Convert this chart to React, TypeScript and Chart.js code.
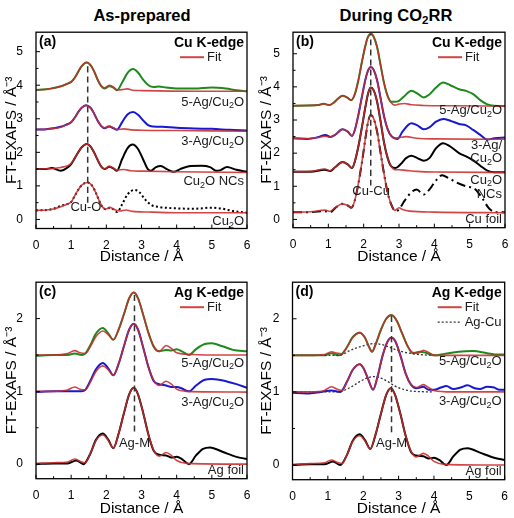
import React, { useEffect, useRef } from "react";
import { Chart, registerables } from "chart.js";
Chart.register(...registerables);

const FONT = '"Liberation Sans", Arial, Helvetica, sans-serif';
type P = [number, number];
type Seg = [string, "n" | "sub" | "sup"];

// ---------- shared axis ticks ----------
const xTicks = [0, 1, 2, 3, 4, 5, 6];
const yTicksCu = [0, 1, 2, 3, 4, 5];
const yTicksAg = [0, 1, 2];

// ---------- (a) As-prepared, Cu K-edge ----------
const a5AgData: P[] = [[0,3.86],[0.3,3.88],[0.5,3.92],[0.7,3.97],[0.85,4.03],[1.0,4.1],[1.1,4.22],[1.2,4.4],[1.3,4.57],[1.44,4.68],[1.55,4.6],[1.65,4.42],[1.75,4.17],[1.85,3.98],[1.95,3.9],[2.08,3.97],[2.2,3.93],[2.3,3.85],[2.45,4.08],[2.6,4.36],[2.76,4.48],[2.9,4.38],[3.05,4.16],[3.2,4.0],[3.35,3.95],[3.5,3.96],[3.7,3.93],[4.0,3.9],[4.5,3.9],[5.0,3.93],[5.4,3.9],[5.7,3.85],[6.0,3.82]];
const a5AgFit: P[] = [[0,3.86],[0.3,3.88],[0.5,3.91],[0.7,3.96],[0.85,4.02],[1.0,4.1],[1.1,4.22],[1.2,4.4],[1.3,4.57],[1.44,4.68],[1.55,4.6],[1.65,4.42],[1.75,4.17],[1.85,3.98],[1.95,3.92],[2.08,4.0],[2.2,3.95],[2.3,3.86],[2.45,3.87],[2.6,3.89],[2.75,3.85],[3.0,3.84],[3.5,3.83],[4.5,3.82],[6.0,3.82]];
const a3AgData: P[] = [[0,2.68],[0.3,2.69],[0.5,2.72],[0.7,2.76],[0.85,2.82],[1.0,2.9],[1.1,3.03],[1.2,3.2],[1.3,3.33],[1.42,3.4],[1.55,3.33],[1.65,3.16],[1.75,2.95],[1.85,2.79],[1.95,2.72],[2.08,2.77],[2.2,2.72],[2.3,2.67],[2.45,2.9],[2.6,3.13],[2.76,3.2],[2.9,3.12],[3.05,2.95],[3.2,2.8],[3.35,2.77],[3.6,2.76],[4.0,2.73],[4.5,2.71],[5.0,2.7],[5.5,2.67],[6.0,2.65]];
const a3AgFit: P[] = [[0,2.68],[0.3,2.69],[0.5,2.71],[0.7,2.75],[0.85,2.81],[1.0,2.9],[1.1,3.03],[1.2,3.2],[1.3,3.33],[1.42,3.4],[1.55,3.33],[1.65,3.16],[1.75,2.95],[1.85,2.79],[1.95,2.73],[2.08,2.78],[2.2,2.73],[2.3,2.68],[2.5,2.7],[2.7,2.67],[3.0,2.66],[4.0,2.65],[6.0,2.63]];
const aNCsData: P[] = [[0,1.5],[0.25,1.5],[0.45,1.53],[0.7,1.45],[0.9,1.55],[1.0,1.65],[1.1,1.82],[1.2,2.0],[1.3,2.15],[1.44,2.25],[1.55,2.18],[1.65,2.0],[1.75,1.78],[1.85,1.58],[1.95,1.5],[2.08,1.57],[2.2,1.52],[2.3,1.45],[2.45,1.8],[2.6,2.12],[2.75,2.23],[2.9,2.1],[3.05,1.78],[3.18,1.5],[3.27,1.45],[3.4,1.55],[3.55,1.59],[3.72,1.5],[3.92,1.42],[4.1,1.5],[4.4,1.59],[4.7,1.6],[4.95,1.56],[5.12,1.45],[5.25,1.47],[5.43,1.56],[5.7,1.48],[6.0,1.42]];
const aNCsFit: P[] = [[0,1.5],[0.3,1.51],[0.5,1.52],[0.7,1.55],[0.9,1.6],[1.0,1.67],[1.1,1.82],[1.2,2.0],[1.3,2.15],[1.44,2.25],[1.55,2.18],[1.65,2.0],[1.75,1.78],[1.85,1.58],[1.95,1.51],[2.08,1.58],[2.2,1.53],[2.3,1.47],[2.5,1.49],[2.7,1.45],[3.0,1.44],[4.0,1.42],[6.0,1.4]];
const aCu2OData: P[] = [[0,0.27],[0.3,0.28],[0.5,0.32],[0.7,0.4],[0.85,0.45],[1.0,0.52],[1.1,0.7],[1.2,0.88],[1.3,1.02],[1.47,1.1],[1.6,1.0],[1.7,0.8],[1.8,0.55],[1.9,0.36],[2.0,0.3],[2.1,0.35],[2.2,0.3],[2.3,0.22],[2.45,0.45],[2.6,0.74],[2.8,0.88],[2.95,0.8],[3.1,0.6],[3.3,0.42],[3.5,0.37],[4.0,0.33],[4.5,0.32],[5.0,0.35],[5.3,0.32],[5.6,0.25],[6.0,0.2]];
const aCu2OFit: P[] = [[0,0.27],[0.3,0.28],[0.5,0.31],[0.7,0.38],[0.85,0.44],[1.0,0.52],[1.1,0.7],[1.2,0.88],[1.3,1.02],[1.47,1.1],[1.6,1.0],[1.7,0.8],[1.8,0.55],[1.9,0.36],[2.0,0.31],[2.1,0.36],[2.22,0.3],[2.4,0.25],[2.55,0.28],[2.75,0.24],[3.2,0.22],[4.0,0.2],[6.0,0.2]];
const aCuOLine: P[] = [[1.47,0.5],[1.47,4.68]];

// ---------- (b) During CO2RR, Cu K-edge ----------
const b5AgFit: P[] = [[0,3.43],[0.4,3.44],[0.7,3.45],[0.87,3.49],[1.02,3.45],[1.15,3.52],[1.28,3.65],[1.4,3.73],[1.53,3.68],[1.65,3.6],[1.75,3.78],[1.85,4.2],[1.95,4.75],[2.05,5.25],[2.12,5.5],[2.2,5.6],[2.28,5.52],[2.38,5.2],[2.48,4.65],[2.58,4.1],[2.68,3.72],[2.78,3.52],[2.88,3.45],[3.0,3.48],[3.15,3.5],[3.35,3.46],[3.7,3.44],[4.5,3.43],[6.0,3.42]];
const b5AgData: P[] = [[0,3.43],[0.4,3.44],[0.7,3.45],[0.87,3.49],[1.02,3.45],[1.15,3.52],[1.28,3.65],[1.4,3.73],[1.53,3.68],[1.65,3.6],[1.75,3.78],[1.85,4.2],[1.95,4.75],[2.05,5.25],[2.12,5.5],[2.2,5.6],[2.28,5.52],[2.38,5.2],[2.48,4.65],[2.58,4.1],[2.68,3.72],[2.78,3.55],[2.88,3.55],[3.0,3.58],[3.15,3.72],[3.35,3.88],[3.52,3.8],[3.7,3.68],[3.85,3.76],[4.05,3.98],[4.25,4.13],[4.45,4.05],[4.7,3.93],[4.9,3.88],[5.1,3.78],[5.3,3.6],[5.5,3.47],[5.7,3.43],[6.0,3.42]];
const b3AgFit: P[] = [[0,2.45],[0.4,2.44],[0.7,2.47],[0.9,2.51],[1.05,2.48],[1.2,2.56],[1.4,2.72],[1.55,2.65],[1.67,2.52],[1.75,2.7],[1.85,3.15],[1.95,3.7],[2.05,4.22],[2.12,4.48],[2.2,4.6],[2.28,4.52],[2.38,4.2],[2.48,3.65],[2.58,3.1],[2.68,2.72],[2.78,2.52],[2.88,2.45],[3.0,2.47],[3.2,2.5],[3.5,2.45],[4.0,2.43],[6.0,2.42]];
const b3AgData: P[] = [[0,2.45],[0.4,2.43],[0.7,2.48],[0.92,2.55],[1.05,2.49],[1.2,2.56],[1.4,2.72],[1.55,2.65],[1.67,2.52],[1.75,2.7],[1.85,3.15],[1.95,3.7],[2.05,4.22],[2.12,4.48],[2.2,4.6],[2.28,4.52],[2.38,4.2],[2.48,3.65],[2.58,3.1],[2.68,2.72],[2.78,2.52],[2.88,2.45],[2.96,2.43],[3.1,2.65],[3.35,2.9],[3.52,2.84],[3.7,2.72],[3.86,2.78],[4.05,2.95],[4.25,3.03],[4.45,2.98],[4.7,2.88],[4.9,2.84],[5.1,2.7],[5.3,2.55],[5.5,2.41],[5.7,2.45],[6.0,2.47]];
const bNCsFit: P[] = [[0,1.44],[0.5,1.45],[0.9,1.52],[1.05,1.47],[1.2,1.58],[1.4,1.73],[1.55,1.66],[1.67,1.55],[1.75,1.75],[1.85,2.2],[1.95,2.78],[2.05,3.4],[2.12,3.78],[2.2,3.98],[2.28,3.9],[2.38,3.55],[2.48,2.95],[2.58,2.3],[2.68,1.85],[2.78,1.6],[2.88,1.5],[3.0,1.5],[3.2,1.48],[3.5,1.45],[4.0,1.43],[6.0,1.42]];
const bNCsData: P[] = [[0,1.44],[0.5,1.44],[0.9,1.5],[1.05,1.46],[1.2,1.58],[1.4,1.73],[1.55,1.66],[1.67,1.55],[1.75,1.75],[1.85,2.2],[1.95,2.78],[2.05,3.4],[2.12,3.78],[2.2,3.98],[2.28,3.9],[2.38,3.55],[2.48,2.95],[2.58,2.3],[2.68,1.85],[2.78,1.6],[2.9,1.55],[3.05,1.67],[3.2,1.85],[3.35,1.92],[3.52,1.85],[3.7,1.77],[3.86,1.85],[4.05,2.15],[4.25,2.3],[4.45,2.2],[4.7,2.0],[4.9,1.9],[5.1,1.78],[5.3,1.62],[5.5,1.47],[5.7,1.42],[6.0,1.42]];
const bFoilFit: P[] = [[0,0.22],[0.5,0.23],[0.9,0.28],[1.05,0.24],[1.2,0.36],[1.4,0.47],[1.55,0.42],[1.65,0.35],[1.75,0.58],[1.85,1.08],[1.95,1.72],[2.05,2.45],[2.12,2.92],[2.2,3.15],[2.28,3.05],[2.38,2.65],[2.48,2.0],[2.58,1.35],[2.68,0.8],[2.78,0.45],[2.88,0.27],[3.0,0.35],[3.1,0.3],[3.3,0.25],[4.0,0.22],[6.0,0.2]];
const bFoilData: P[] = [[0,0.22],[0.5,0.22],[0.9,0.25],[1.05,0.22],[1.2,0.35],[1.4,0.47],[1.55,0.42],[1.65,0.35],[1.75,0.58],[1.85,1.08],[1.95,1.72],[2.05,2.45],[2.12,2.92],[2.2,3.15],[2.28,3.05],[2.38,2.65],[2.48,2.0],[2.58,1.35],[2.68,0.8],[2.78,0.45],[2.9,0.25],[3.0,0.3],[3.15,0.55],[3.35,0.82],[3.5,0.9],[3.7,0.75],[3.86,0.9],[4.05,1.18],[4.22,1.33],[4.4,1.25],[4.65,1.1],[4.9,1.0],[5.15,0.92],[5.35,0.65],[5.55,0.33],[5.75,0.22],[6.0,0.22]];
const bCuCuLine: P[] = [[2.2,1.02],[2.2,5.6]];

// ---------- (c) As-prepared, Ag K-edge ----------
const c5AgFit: P[] = [[0,1.5],[0.5,1.5],[0.9,1.52],[1.1,1.56],[1.25,1.53],[1.4,1.52],[1.55,1.62],[1.7,1.75],[1.9,1.83],[2.05,1.78],[2.2,1.71],[2.35,1.85],[2.5,2.06],[2.65,2.28],[2.78,2.36],[2.9,2.28],[3.05,2.05],[3.2,1.8],[3.35,1.62],[3.5,1.55],[3.7,1.63],[3.85,1.59],[4.0,1.53],[4.3,1.51],[5.0,1.5],[6.0,1.5]];
const c5AgData: P[] = [[0,1.49],[0.5,1.5],[0.9,1.5],[1.1,1.52],[1.3,1.5],[1.4,1.52],[1.55,1.64],[1.7,1.79],[1.9,1.87],[2.05,1.8],[2.2,1.71],[2.35,1.85],[2.5,2.06],[2.65,2.28],[2.78,2.36],[2.9,2.28],[3.05,2.05],[3.2,1.8],[3.35,1.61],[3.5,1.55],[3.7,1.57],[3.85,1.56],[4.0,1.58],[4.15,1.55],[4.35,1.5],[4.55,1.58],[4.8,1.65],[5.0,1.66],[5.3,1.62],[5.6,1.57],[6.0,1.55]];
const c3AgFit: P[] = [[0,1.0],[0.5,1.0],[0.9,1.02],[1.1,1.06],[1.25,1.03],[1.4,1.02],[1.55,1.13],[1.7,1.27],[1.9,1.35],[2.05,1.3],[2.2,1.22],[2.35,1.38],[2.5,1.62],[2.65,1.85],[2.78,1.93],[2.9,1.85],[3.05,1.6],[3.2,1.33],[3.35,1.15],[3.5,1.08],[3.7,1.14],[3.85,1.1],[4.0,1.03],[4.3,1.0],[6.0,0.99]];
const c3AgData: P[] = [[0,0.99],[0.5,1.0],[0.9,1.0],[1.1,1.0],[1.3,1.0],[1.4,1.02],[1.55,1.15],[1.7,1.3],[1.9,1.39],[2.05,1.32],[2.2,1.22],[2.35,1.38],[2.5,1.62],[2.65,1.85],[2.78,1.93],[2.9,1.85],[3.05,1.6],[3.2,1.33],[3.35,1.14],[3.5,1.1],[3.7,1.08],[3.85,1.06],[4.0,1.06],[4.15,1.04],[4.35,1.0],[4.55,1.08],[4.8,1.16],[5.0,1.17],[5.4,1.14],[5.7,1.1],[6.0,1.05]];
const agFoilFit: P[] = [[0,0.01],[0.5,0.02],[0.9,0.03],[1.1,0.07],[1.25,0.04],[1.4,0.02],[1.55,0.15],[1.7,0.32],[1.9,0.4],[2.05,0.33],[2.2,0.22],[2.35,0.42],[2.5,0.7],[2.65,0.96],[2.78,1.05],[2.9,0.96],[3.05,0.7],[3.2,0.4],[3.35,0.19],[3.5,0.11],[3.7,0.16],[3.85,0.12],[4.0,0.05],[4.3,0.01],[6.0,0.0]];
const agFoilData: P[] = [[0,0.0],[0.5,0.01],[0.9,0.01],[1.15,0.05],[1.35,0.0],[1.55,0.15],[1.7,0.33],[1.9,0.42],[2.05,0.34],[2.2,0.22],[2.35,0.42],[2.5,0.7],[2.65,0.96],[2.78,1.05],[2.9,0.96],[3.05,0.7],[3.2,0.4],[3.35,0.18],[3.5,0.13],[3.7,0.12],[3.85,0.09],[4.0,0.1],[4.15,0.07],[4.35,0.0],[4.55,0.12],[4.75,0.21],[4.95,0.23],[5.3,0.17],[5.7,0.1],[6.0,0.07]];
const cAgMLine: P[] = [[2.8,0.45],[2.8,2.36]];

// ---------- (d) During CO2RR, Ag K-edge ----------
const d5AgFit: P[] = [[0,1.5],[0.5,1.5],[0.9,1.51],[1.1,1.55],[1.25,1.53],[1.4,1.52],[1.55,1.62],[1.7,1.74],[1.9,1.81],[2.05,1.74],[2.15,1.63],[2.25,1.55],[2.35,1.65],[2.5,1.85],[2.65,2.0],[2.8,2.05],[2.95,1.97],[3.1,1.8],[3.25,1.63],[3.4,1.54],[3.55,1.53],[3.7,1.57],[3.85,1.54],[4.0,1.5],[5.0,1.5],[6.0,1.5]];
const d5AgData: P[] = [[0,1.5],[0.5,1.5],[0.9,1.5],[1.1,1.53],[1.3,1.5],[1.4,1.52],[1.55,1.62],[1.7,1.75],[1.9,1.81],[2.05,1.74],[2.15,1.63],[2.25,1.55],[2.35,1.65],[2.5,1.85],[2.65,2.0],[2.8,2.05],[2.95,1.97],[3.1,1.8],[3.25,1.63],[3.4,1.53],[3.6,1.55],[3.75,1.54],[4.0,1.5],[4.3,1.52],[4.7,1.55],[5.1,1.56],[5.5,1.53],[5.8,1.51],[6.0,1.51]];
const d5AgCu: P[] = [[0,1.5],[1.3,1.5],[1.45,1.52],[1.6,1.56],[1.8,1.6],[2.0,1.63],[2.3,1.66],[2.5,1.65],[2.7,1.62],[2.9,1.58],[3.1,1.55],[3.3,1.53],[3.6,1.51],[4.0,1.5]];
const d3AgFit: P[] = [[0,1.0],[0.5,1.0],[0.9,1.02],[1.1,1.07],[1.25,1.04],[1.4,1.02],[1.55,1.15],[1.7,1.3],[1.9,1.38],[2.0,1.33],[2.12,1.2],[2.28,1.03],[2.4,1.2],[2.55,1.5],[2.7,1.7],[2.8,1.74],[2.9,1.7],[3.05,1.5],[3.2,1.25],[3.35,1.1],[3.5,1.06],[3.7,1.1],[3.85,1.06],[4.0,1.02],[4.5,1.0],[6.0,1.0]];
const d3AgData: P[] = [[0,0.99],[0.4,0.98],[0.8,1.0],[1.1,1.02],[1.35,1.0],[1.55,1.15],[1.7,1.3],[1.9,1.38],[2.0,1.33],[2.12,1.2],[2.28,1.03],[2.4,1.2],[2.55,1.5],[2.7,1.7],[2.8,1.74],[2.9,1.7],[3.05,1.5],[3.2,1.25],[3.35,1.1],[3.5,1.05],[3.7,1.07],[3.85,1.03],[4.0,1.03],[4.2,1.06],[4.35,1.08],[4.55,1.04],[4.75,1.06],[4.95,1.09],[5.15,1.05],[5.3,1.04],[5.5,1.07],[5.7,1.06],[5.85,1.03],[6.0,1.03]];
const d3AgCu: P[] = [[0,1.0],[1.3,1.0],[1.5,1.03],[1.7,1.08],[1.9,1.14],[2.1,1.19],[2.3,1.21],[2.5,1.19],[2.7,1.14],[2.9,1.08],[3.1,1.04],[3.4,1.01],[4.0,1.0]];
const dAgMLine: P[] = [[2.8,0.45],[2.8,2.05]];

// ---------- styles ----------
const GREEN = "#1c8a1c";
const BLUE = "#1818d2";
const BLACK = "#000000";
const RED = "rgba(202,44,44,0.88)";
const GUIDE = "#333333";

const cu2o: Seg[] = [["Cu", "n"], ["2", "sub"], ["O", "n"]];

function line(pts: P[], color: string, width: number, order: number, dash: number[] = []) {
  return {
    data: pts.map(([x, y]) => ({ x, y })),
    borderColor: color,
    borderWidth: width,
    borderDash: dash,
    pointRadius: 0,
    cubicInterpolationMode: "monotone",
    fill: false,
    order,
  };
}
const dataLine = (pts: P[], color: string, dash: number[] = []) => line(pts, color, 2, 2, dash);
const fitLine = (pts: P[]) => line(pts, RED, 1.6, 1);
const guideLine = (pts: P[]) => line(pts, GUIDE, 1.5, 0, [6, 4]);

type Label = { x: number | "right"; y: number; segs: Seg[]; align: CanvasTextAlign };
type Spec = {
  cx: number; cy: number; cw: number; ch: number;
  yW: number; xH: number; padTop: number; padRight: number; yTitlePad: number;
  yMin: number; yMax: number; yTicks: number[];
  datasets: any[];
  letter: string; edge: string;
  legend: { text: string; dash: number[]; color: string; width: number }[];
  labels: Label[];
};

function drawRich(ctx: CanvasRenderingContext2D, segs: Seg[], x: number, y: number, align: CanvasTextAlign, size: number, bold: boolean, color: string) {
  const f = (k: string) => `${bold ? "bold " : ""}${k === "n" ? size : Math.round(size * 0.7)}px ${FONT}`;
  let w = 0;
  for (const [t, k] of segs) { ctx.font = f(k); w += ctx.measureText(t).width; }
  let cx = align === "right" ? x - w : align === "center" ? x - w / 2 : x;
  ctx.textAlign = "left";
  ctx.textBaseline = "middle";
  ctx.fillStyle = color;
  for (const [t, k] of segs) {
    ctx.font = f(k);
    const dy = k === "sub" ? size * 0.3 : k === "sup" ? -size * 0.35 : 0;
    ctx.fillText(t, cx, y + dy);
    cx += ctx.measureText(t).width;
  }
}

function halves(m: number[]) {
  const out: number[] = [];
  for (let i = 0; i < m.length - 1; i++) out.push((m[i] + m[i + 1]) / 2);
  return out;
}

function decor(spec: Spec) {
  return {
    id: "decor",
    afterDatasetsDraw(chart: any) {
      const { ctx, chartArea } = chart;
      const { left, right, top, bottom } = chartArea;
      const xs = chart.scales.x, ys = chart.scales.y;
      ctx.save();
      ctx.setLineDash([]);
      ctx.strokeStyle = "#000";
      ctx.lineWidth = 1.3;
      ctx.strokeRect(left, top, right - left, bottom - top);
      ctx.lineWidth = 1;
      ctx.beginPath();
      for (const v of xTicks) { const p = xs.getPixelForValue(v); ctx.moveTo(p, bottom); ctx.lineTo(p, bottom - 4); }
      for (const v of halves(xTicks)) { const p = xs.getPixelForValue(v); ctx.moveTo(p, bottom); ctx.lineTo(p, bottom - 2.5); }
      for (const v of spec.yTicks) { const p = ys.getPixelForValue(v); ctx.moveTo(left, p); ctx.lineTo(left + 4, p); }
      for (const v of halves(spec.yTicks)) { const p = ys.getPixelForValue(v); ctx.moveTo(left, p); ctx.lineTo(left + 2.5, p); }
      ctx.stroke();

      drawRich(ctx, [[spec.letter, "n"]], left + 3, top + 9.5, "left", 14, true, "#000");
      drawRich(ctx, [[spec.edge, "n"]], right - 3, top + 10.5, "right", 14, true, "#000");
      spec.legend.forEach((l, i) => {
        const y = top + 25 + i * 15;
        ctx.strokeStyle = l.color;
        ctx.lineWidth = l.width;
        ctx.setLineDash(l.dash);
        ctx.beginPath();
        ctx.moveTo(right - 67, y);
        ctx.lineTo(right - 43, y);
        ctx.stroke();
        ctx.setLineDash([]);
        drawRich(ctx, [[l.text, "n"]], right - 40, y, "left", 13, false, "#1a1a1a");
      });
      for (const lb of spec.labels) {
        const px = lb.x === "right" ? right - 3 : xs.getPixelForValue(lb.x);
        drawRich(ctx, lb.segs, px, ys.getPixelForValue(lb.y), lb.align, 13, false, "#1a1a1a");
      }
      ctx.restore();
    },
  };
}

function config(spec: Spec): any {
  return {
    type: "line",
    data: { datasets: spec.datasets },
    options: {
      animation: false,
      responsive: false,
      maintainAspectRatio: false,
      events: [],
      layout: { padding: { left: 0, top: spec.padTop, right: spec.padRight, bottom: 0 } },
      plugins: { legend: { display: false }, tooltip: { enabled: false }, title: { display: false } },
      scales: {
        x: {
          type: "linear", min: 0, max: 6,
          grid: { display: false }, border: { display: false },
          ticks: { font: { family: FONT, size: 12 }, color: "#000", padding: 2, maxRotation: 0, autoSkip: false },
          afterBuildTicks: (s: any) => { s.ticks = xTicks.map((v) => ({ value: v })); },
          afterFit: (s: any) => { s.height = spec.xH; },
          title: { display: true, text: "Distance / Å", font: { family: FONT, size: 15.5 }, color: "#000", padding: { top: 0, bottom: 0 } },
        },
        y: {
          type: "linear", min: spec.yMin, max: spec.yMax,
          grid: { display: false }, border: { display: false },
          ticks: { font: { family: FONT, size: 12 }, color: "#000", padding: 5, autoSkip: false },
          afterBuildTicks: (s: any) => { s.ticks = spec.yTicks.map((v) => ({ value: v })); },
          afterFit: (s: any) => { s.width = spec.yW; },
          title: { display: true, text: "FT-EXAFS / Å⁻³", font: { family: FONT, size: 15.5 }, color: "#000", padding: { top: spec.yTitlePad, bottom: 0 } },
        },
      },
    },
    plugins: [decor(spec)],
  };
}

function Panel({ spec }: { spec: Spec }) {
  const ref = useRef<HTMLCanvasElement>(null);
  useEffect(() => {
    const chart = new Chart(ref.current as HTMLCanvasElement, config(spec));
    return () => chart.destroy();
  }, [spec]);
  return (
    <canvas
      ref={ref}
      width={spec.cw}
      height={spec.ch}
      style={{ position: "absolute", left: spec.cx, top: spec.cy, width: spec.cw, height: spec.ch }}
    />
  );
}

const fitLegend = { text: "Fit", dash: [] as number[], color: RED, width: 2 };

const specA: Spec = {
  cx: 0, cy: 20, cw: 254, ch: 246, yW: 36, xH: 37.5, padTop: 9, padRight: 7, yTitlePad: 2.5,
  yMin: -0.27, yMax: 5.58, yTicks: yTicksCu,
  datasets: [
    guideLine(aCuOLine),
    fitLine(a5AgFit), fitLine(a3AgFit), fitLine(aNCsFit), fitLine(aCu2OFit),
    dataLine(a5AgData, GREEN), dataLine(a3AgData, BLUE), dataLine(aNCsData, BLACK), dataLine(aCu2OData, BLACK, [2, 2.5]),
  ],
  letter: "(a)", edge: "Cu K-edge", legend: [fitLegend],
  labels: [
    { x: "right", y: 3.5, segs: [["5-Ag/", "n"], ...cu2o], align: "right" },
    { x: "right", y: 2.33, segs: [["3-Ag/", "n"], ...cu2o], align: "right" },
    { x: "right", y: 1.13, segs: [...cu2o, [" NCs", "n"]], align: "right" },
    { x: "right", y: -0.05, segs: cu2o, align: "right" },
    { x: 1.42, y: 0.36, segs: [["Cu-O", "n"]], align: "center" },
  ],
};

const specB: Spec = {
  cx: 254, cy: 20, cw: 260, ch: 246, yW: 39, xH: 38.3, padTop: 10.6, padRight: 9, yTitlePad: 3.5,
  yMin: -0.25, yMax: 5.65, yTicks: yTicksCu,
  datasets: [
    guideLine(bCuCuLine),
    fitLine(b5AgFit), fitLine(b3AgFit), fitLine(bNCsFit), fitLine(bFoilFit),
    dataLine(b5AgData, GREEN), dataLine(b3AgData, BLUE), dataLine(bNCsData, BLACK), dataLine(bFoilData, BLACK, [9, 4, 2, 4]),
  ],
  letter: "(b)", edge: "Cu K-edge", legend: [fitLegend],
  labels: [
    { x: "right", y: 3.28, segs: [["5-Ag/", "n"], ...cu2o], align: "right" },
    { x: "right", y: 2.24, segs: [["3-Ag/", "n"]], align: "right" },
    { x: "right", y: 1.84, segs: cu2o, align: "right" },
    { x: "right", y: 1.19, segs: cu2o, align: "right" },
    { x: "right", y: 0.74, segs: [["NCs", "n"]], align: "right" },
    { x: "right", y: -0.01, segs: [["Cu foil", "n"]], align: "right" },
    { x: 2.21, y: 0.84, segs: [["Cu-Cu", "n"]], align: "center" },
  ],
};

const specC: Spec = {
  cx: 0, cy: 270, cw: 254, ch: 248, yW: 36, xH: 39.3, padTop: 9.7, padRight: 7, yTitlePad: 2.5,
  yMin: -0.2, yMax: 2.5, yTicks: yTicksAg,
  datasets: [
    guideLine(cAgMLine),
    fitLine(c5AgFit), fitLine(c3AgFit), fitLine(agFoilFit),
    dataLine(c5AgData, GREEN), dataLine(c3AgData, BLUE), dataLine(agFoilData, BLACK),
  ],
  letter: "(c)", edge: "Ag K-edge", legend: [fitLegend],
  labels: [
    { x: "right", y: 1.39, segs: [["5-Ag/", "n"], ...cu2o], align: "right" },
    { x: "right", y: 0.85, segs: [["3-Ag/", "n"], ...cu2o], align: "right" },
    { x: "right", y: -0.09, segs: [["Ag foil", "n"]], align: "right" },
    { x: 2.8, y: 0.29, segs: [["Ag-M", "n"]], align: "center" },
  ],
};

const specD: Spec = {
  cx: 254, cy: 270, cw: 260, ch: 248, yW: 38.5, xH: 38.3, padTop: 10.7, padRight: 9.3, yTitlePad: 3.5,
  yMin: -0.2, yMax: 2.5, yTicks: yTicksAg,
  datasets: [
    guideLine(dAgMLine),
    fitLine(d5AgFit), fitLine(d3AgFit), fitLine(agFoilFit),
    line(d5AgCu, GUIDE, 1.3, 1, [2, 2]), line(d3AgCu, GUIDE, 1.3, 1, [2, 2]),
    dataLine(d5AgData, GREEN), dataLine(d3AgData, BLUE), dataLine(agFoilData, BLACK),
  ],
  letter: "(d)", edge: "Ag K-edge",
  legend: [fitLegend, { text: "Ag-Cu", dash: [2, 2], color: GUIDE, width: 1.3 }],
  labels: [
    { x: "right", y: 1.42, segs: [["5-Ag/", "n"], ...cu2o], align: "right" },
    { x: "right", y: 0.87, segs: [["3-Ag/", "n"], ...cu2o], align: "right" },
    { x: "right", y: -0.09, segs: [["Ag foil", "n"]], align: "right" },
    { x: 2.8, y: 0.29, segs: [["Ag-M", "n"]], align: "center" },
  ],
};

const titleStyle: React.CSSProperties = {
  position: "absolute", top: 5, width: 200, textAlign: "center",
  fontFamily: FONT, fontWeight: "bold", fontSize: 16.5, lineHeight: "20px", color: "#000",
};

export default function App() {
  return (
    <div style={{ position: "fixed", left: 0, top: 0, width: 514, height: 518, background: "#fff", overflow: "hidden" }}>
      <div style={{ ...titleStyle, left: 42 }}>As-prepared</div>
      <div style={{ ...titleStyle, left: 296 }}>
        During CO<span style={{ fontSize: "0.7em", verticalAlign: "-0.3em", lineHeight: 0 }}>2</span>RR
      </div>
      <Panel spec={specA} />
      <Panel spec={specB} />
      <Panel spec={specC} />
      <Panel spec={specD} />
    </div>
  );
}
